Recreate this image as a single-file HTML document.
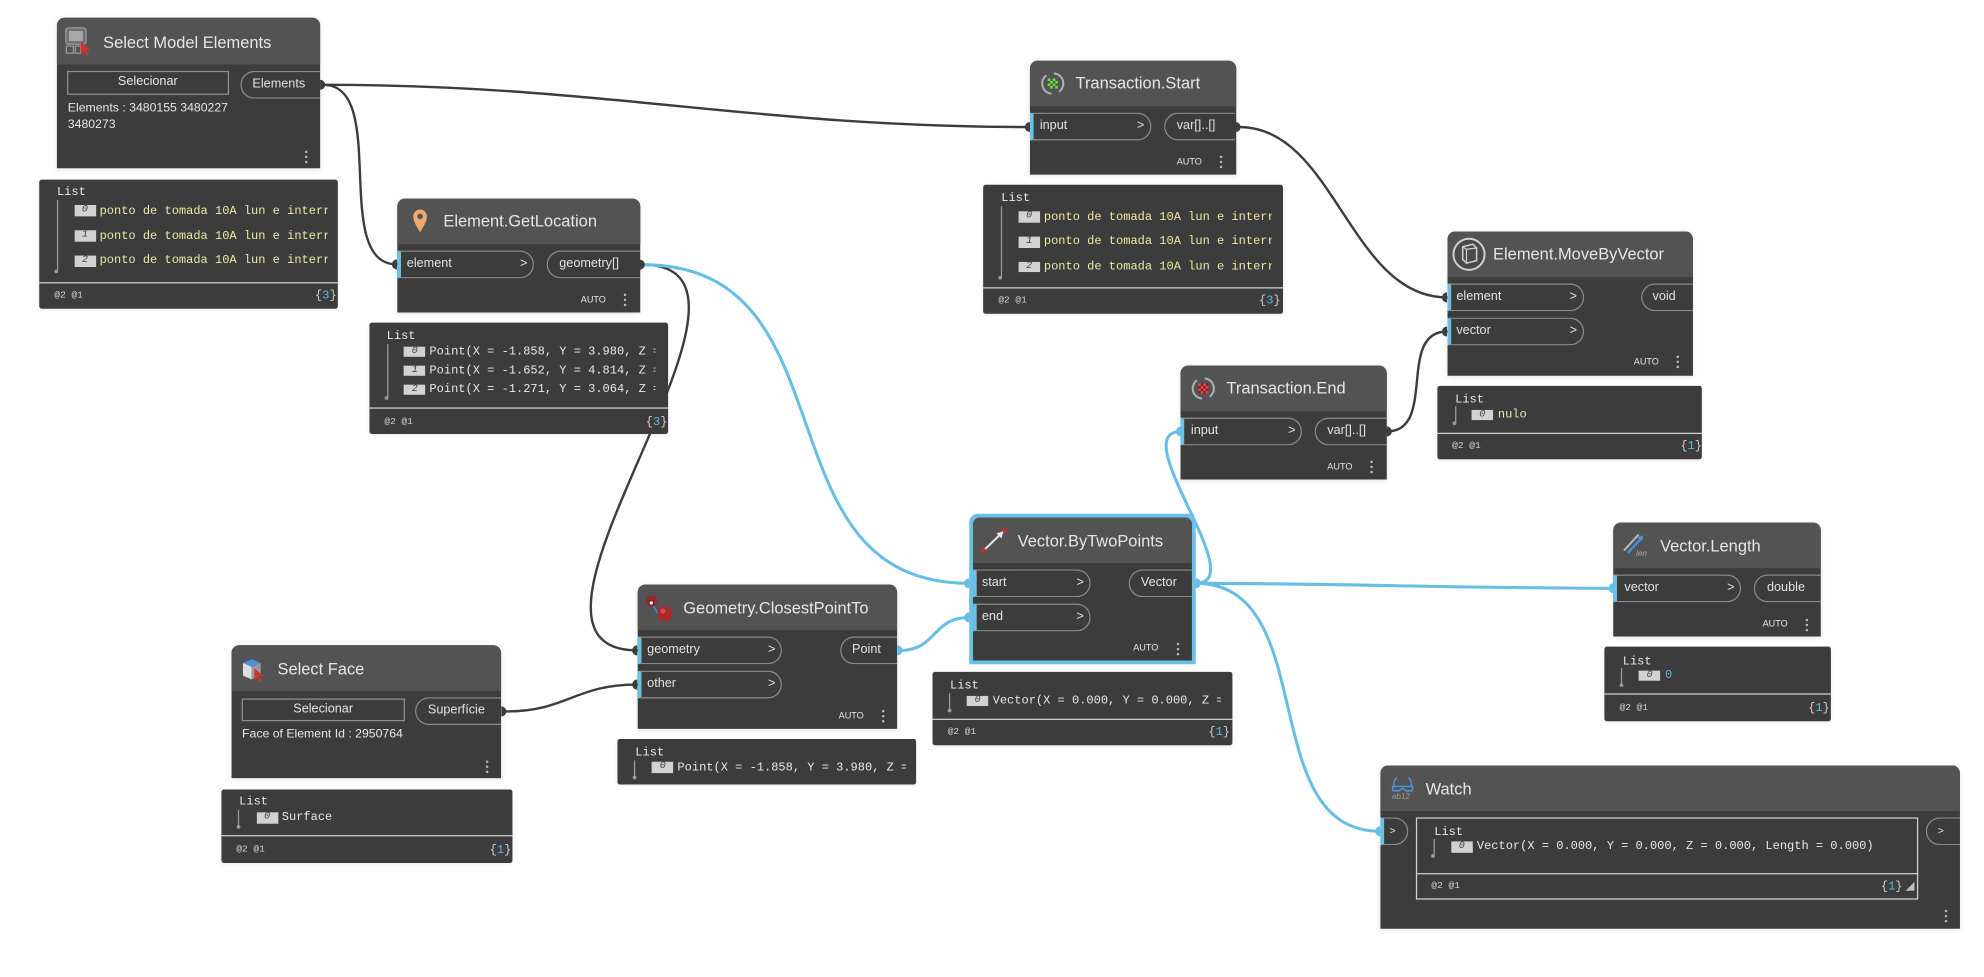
<!DOCTYPE html>
<html><head><meta charset="utf-8">
<style>
body{margin:0;width:1984px;height:976px;overflow:hidden;background:#fff;position:relative}
#c{position:absolute;left:0;top:0;width:1568px;height:772px;transform:scale(1.265306);transform-origin:0 0;font-family:"Liberation Sans",sans-serif}
#c div{position:absolute;box-sizing:border-box;white-space:nowrap}
.n{background:#3c3c3c;border-radius:6px 6px 0 0;box-shadow:0 1px 4px rgba(0,0,0,.10)}
.h{background:#535353;border-radius:6px 6px 0 0}
.t{font-size:13px;line-height:14px;height:14px;color:#e6e6e6}
.pi{border:1px solid #8a8a8a;border-left:3.5px solid #6ac0e7;border-radius:0 11px 11px 0;font-size:10px;color:#e2e2e2}
.po{border:1px solid #8a8a8a;border-right:none;border-radius:11px 0 0 11px;font-size:10px;color:#e2e2e2}
.ar{font-size:10px;line-height:14px;height:14px;color:#e2e2e2}
.au{font-size:7.2px;line-height:10px;height:10px;color:#e6e6e6}
.dt{width:2px;height:2px;border-radius:1px;background:#b8b8b8;box-shadow:0 4px 0 #b8b8b8,0 8px 0 #b8b8b8}
.lv{background:#3c3c3c;border-radius:2px;box-shadow:0 1px 3px rgba(0,0,0,.08)}
.dv{height:1px;background:#cfcfcf}
.m{font-family:"Liberation Mono",monospace;font-size:9.5px;line-height:12px;height:12px;color:#e8e8e8;overflow:hidden}
.y{color:#efe9a2}
.ix{background:#d2d2d2;color:#444;font-style:italic;font-family:"Liberation Mono",monospace;font-size:8px;text-align:center;line-height:8.5px;height:8.5px;width:17px}
.vl{width:1px;background:#9a9a9a}
.vd{width:3px;height:3px;border-radius:2px;background:#9a9a9a}
.ft{font-family:"Liberation Mono",monospace;font-size:7.5px;line-height:10px;height:10px;color:#d0d0d0}
.br{font-family:"Liberation Mono",monospace;font-size:9.5px;line-height:12px;height:12px;color:#cfcfcf}
.br span{color:#5fb7e5}
.tx{font-size:9.7px;line-height:14px;height:14px;color:#e6e6e6}
.btn{border:1px solid #8f8f8f;font-size:10px;color:#e6e6e6;text-align:center}
</style></head><body>
<div id="c">
<svg style="position:absolute;left:0;top:0" width="1568" height="772">
<g fill="none" stroke-linecap="round">
<path d="M255.5 67 C475.5 67 594 100.4 814 100.4" stroke="#3d3d3d" stroke-width="1.9"/>
<path d="M255.5 67 C308 67 261 209 313.7 209" stroke="#3d3d3d" stroke-width="1.9"/>
<path d="M979.6 100.4 C1054.6 100.4 1067 235.1 1143.6 235.1" stroke="#3d3d3d" stroke-width="1.9"/>
<path d="M508 209.2 C636 209.2 375 514 503.6 514" stroke="#3d3d3d" stroke-width="1.9"/>
<path d="M398.9 562.3 C448.9 562.3 453.6 541 503.6 541" stroke="#3d3d3d" stroke-width="1.9"/>
<path d="M1096 341 C1136 341 1103.6 262 1143.6 262" stroke="#3d3d3d" stroke-width="1.9"/>
<path d="M508 209.2 C678 209.2 596 461 766 461" stroke="#66bde6" stroke-width="2.4"/>
<path d="M711.3 514 C741 514 736 488 766 488" stroke="#66bde6" stroke-width="2.4"/>
<path d="M945 461 C990 461 888.4 341 933.4 341" stroke="#66bde6" stroke-width="2.4"/>
<path d="M945 461 C1045 461 1175 465 1275.4 465" stroke="#66bde6" stroke-width="2.4"/>
<path d="M945 461 C1045 461 990.8 657 1090.8 657" stroke="#66bde6" stroke-width="2.4"/>
</g>
</svg>

<!-- Select Model Elements -->
<div class="n" style="left:45px;top:14px;width:208px;height:119px"></div>
<div class="h" style="left:45px;top:14px;width:208px;height:36.6px"></div>
<svg style="position:absolute;left:51px;top:21px" width="22" height="23">
<rect x="1" y="1" width="16" height="13" rx="2" fill="#707070" stroke="#9a9a9a"/>
<rect x="3.5" y="3.5" width="11" height="8" fill="#a8a8a8"/>
<rect x="1.5" y="15.5" width="5.5" height="5.5" fill="none" stroke="#9a9a9a"/>
<rect x="8.5" y="15.5" width="4.5" height="5.5" fill="none" stroke="#9a9a9a"/>
<path d="M13 12 L13 22 L15.3 19.6 L17.6 23 L19.2 22 L17 18.6 L20.3 18.2 Z" fill="#d23232"/>
</svg>
<div class="t" style="left:81.5px;top:26.7px">Select Model Elements</div>
<div class="btn" style="left:53px;top:56px;width:127.7px;height:18.8px;line-height:16.8px">Selecionar</div>
<div class="po" style="left:189.5px;top:55.6px;width:63.5px;height:22.4px;line-height:20.4px;padding-left:9px">Elements</div>
<div class="tx" style="left:53.6px;top:79px">Elements : 3480155 3480227</div>
<div class="tx" style="left:53.6px;top:92.3px">3480273</div>
<div class="dt" style="left:241px;top:118.5px"></div>

<div class="lv" style="left:30.7px;top:141.5px;width:236.7px;height:102.5px"></div>
<div class="dv" style="left:30.7px;top:222.6px;width:236.7px"></div>
<div class="m" style="left:45px;top:146.3px">List</div>
<div class="vl" style="left:44.8px;top:158px;height:56px"></div>
<div class="vd" style="left:43.3px;top:213px"></div>
<div class="ix" style="left:58.6px;top:162.2px">0</div>
<div class="m y" style="left:78.7px;top:160.5px;width:180px">ponto de tomada 10A lun e interruptor</div>
<div class="ix" style="left:58.6px;top:182.2px">1</div>
<div class="m y" style="left:78.7px;top:180.5px;width:180px">ponto de tomada 10A lun e interruptor</div>
<div class="ix" style="left:58.6px;top:202px">2</div>
<div class="m y" style="left:78.7px;top:200.3px;width:180px">ponto de tomada 10A lun e interruptor</div>
<div class="ft" style="left:43px;top:228.7px">@2 @1</div>
<div class="br" style="left:249px;top:227.7px">{<span>3</span>}</div>

<!-- Element.GetLocation -->
<div class="n" style="left:313.7px;top:156.5px;width:191.9px;height:90.6px"></div>
<div class="h" style="left:313.7px;top:156.5px;width:191.9px;height:36.3px"></div>
<svg style="position:absolute;left:325.7px;top:165px" width="12" height="19">
<path d="M6 18.5 C3 13.5 0.6 10 0.6 6 A5.4 5.4 0 0 1 11.4 6 C11.4 10 9 13.5 6 18.5Z" fill="#f5a66b"/>
<circle cx="6" cy="6" r="2.2" fill="#535353"/>
</svg>
<div class="t" style="left:350.4px;top:167.5px">Element.GetLocation</div>
<div class="pi" style="left:313.7px;top:197.8px;width:108.6px;height:22.4px;line-height:20.4px;padding-left:4.8px">element</div>
<div class="ar" style="left:411px;top:202px">&gt;</div>
<div class="po" style="left:432.2px;top:197.8px;width:73.4px;height:22.4px;line-height:20.4px;padding-left:8.8px">geometry[]</div>
<div class="au" style="left:459px;top:231.6px">AUTO</div>
<div class="dt" style="left:493.2px;top:231.5px"></div>

<div class="lv" style="left:291.8px;top:255.3px;width:236.7px;height:88.2px"></div>
<div class="dv" style="left:291.8px;top:321.7px;width:236.7px"></div>
<div class="m" style="left:305.6px;top:260px">List</div>
<div class="vl" style="left:305.6px;top:272px;height:42px"></div>
<div class="vd" style="left:304.1px;top:313px"></div>
<div class="ix" style="left:319.3px;top:273.7px">0</div>
<div class="m" style="left:339.4px;top:272px;width:179px">Point(X = -1.858, Y = 3.980, Z = 0.000)</div>
<div class="ix" style="left:319.3px;top:288.7px">1</div>
<div class="m" style="left:339.4px;top:287px;width:179px">Point(X = -1.652, Y = 4.814, Z = 0.000)</div>
<div class="ix" style="left:319.3px;top:303.7px">2</div>
<div class="m" style="left:339.4px;top:302px;width:179px">Point(X = -1.271, Y = 3.064, Z = 0.000)</div>
<div class="ft" style="left:303.8px;top:328.5px">@2 @1</div>
<div class="br" style="left:510.4px;top:327.5px">{<span>3</span>}</div>

<!-- Transaction.Start -->
<div class="n" style="left:814px;top:47.7px;width:162.5px;height:90.3px"></div>
<div class="h" style="left:814px;top:47.7px;width:162.5px;height:36.1px"></div>
<svg style="position:absolute;left:822px;top:55.5px" width="20" height="20">
<path d="M5 3.5 A8 8 0 0 0 9 18" stroke="#b0b0b0" stroke-width="1.6" fill="none"/>
<path d="M15 16.5 A8 8 0 0 0 11 2" stroke="#b0b0b0" stroke-width="1.6" fill="none"/>
<rect x="6" y="6" width="8" height="8" fill="#3f6e2c"/>
<rect x="6" y="6" width="2" height="2" fill="#7fd05a"/><rect x="10" y="6" width="2" height="2" fill="#7fd05a"/>
<rect x="8" y="8" width="2" height="2" fill="#7fd05a"/><rect x="12" y="8" width="2" height="2" fill="#7fd05a"/>
<rect x="6" y="10" width="2" height="2" fill="#7fd05a"/><rect x="10" y="10" width="2" height="2" fill="#7fd05a"/>
<rect x="8" y="12" width="2" height="2" fill="#7fd05a"/><rect x="12" y="12" width="2" height="2" fill="#7fd05a"/>
</svg>
<div class="t" style="left:850px;top:59.4px">Transaction.Start</div>
<div class="pi" style="left:814px;top:89px;width:95.6px;height:22px;line-height:20px;padding-left:4.8px">input</div>
<div class="ar" style="left:898.5px;top:93px">&gt;</div>
<div class="po" style="left:920.2px;top:89px;width:56.3px;height:22px;line-height:20px;padding-left:8.8px">var[]..[]</div>
<div class="au" style="left:930px;top:122.8px">AUTO</div>
<div class="dt" style="left:964.2px;top:122.8px"></div>

<div class="lv" style="left:777px;top:146.2px;width:236.5px;height:102.2px"></div>
<div class="dv" style="left:777px;top:226.8px;width:236.5px"></div>
<div class="m" style="left:791.3px;top:151.3px">List</div>
<div class="vl" style="left:790.5px;top:163px;height:56px"></div>
<div class="vd" style="left:789px;top:218px"></div>
<div class="ix" style="left:804.9px;top:167.2px">0</div>
<div class="m y" style="left:825px;top:165.5px;width:179.5px">ponto de tomada 10A lun e interruptor</div>
<div class="ix" style="left:804.9px;top:187px">1</div>
<div class="m y" style="left:825px;top:185.3px;width:179.5px">ponto de tomada 10A lun e interruptor</div>
<div class="ix" style="left:804.9px;top:206.7px">2</div>
<div class="m y" style="left:825px;top:205px;width:179.5px">ponto de tomada 10A lun e interruptor</div>
<div class="ft" style="left:789px;top:233.4px">@2 @1</div>
<div class="br" style="left:995px;top:232.4px">{<span>3</span>}</div>

<!-- Element.MoveByVector -->
<div class="n" style="left:1143.6px;top:182.6px;width:194px;height:114.3px"></div>
<div class="h" style="left:1143.6px;top:182.6px;width:194px;height:36.3px"></div>
<svg style="position:absolute;left:1147.4px;top:186.7px" width="28" height="28">
<circle cx="14" cy="14" r="12.3" fill="#4a4a4a" stroke="#cfcfcf" stroke-width="1.6"/>
<path d="M9 8 L17 6 L20 9 L20 19 L12 21 L9 18 Z" fill="none" stroke="#cfcfcf" stroke-width="1.2"/>
<path d="M12 10 L12 20 M9 8 L12 10 L20 9" fill="none" stroke="#cfcfcf" stroke-width="1"/>
</svg>
<div class="t" style="left:1180px;top:193.7px">Element.MoveByVector</div>
<div class="pi" style="left:1143.6px;top:223.9px;width:108.4px;height:22.4px;line-height:20.4px;padding-left:4.4px">element</div>
<div class="ar" style="left:1240.5px;top:228.1px">&gt;</div>
<div class="pi" style="left:1143.6px;top:250.8px;width:108.4px;height:22.4px;line-height:20.4px;padding-left:4.4px">vector</div>
<div class="ar" style="left:1240.5px;top:255px">&gt;</div>
<div class="po" style="left:1296.5px;top:223.9px;width:41.1px;height:22.4px;line-height:20.4px;padding-left:8.5px">void</div>
<div class="au" style="left:1291.2px;top:281.4px">AUTO</div>
<div class="dt" style="left:1325.3px;top:281.4px"></div>

<div class="lv" style="left:1135.7px;top:305px;width:209.5px;height:58.3px"></div>
<div class="dv" style="left:1135.7px;top:342px;width:209.5px"></div>
<div class="m" style="left:1150px;top:310.1px">List</div>
<div class="vl" style="left:1149.7px;top:321px;height:13px"></div>
<div class="vd" style="left:1148.2px;top:333px"></div>
<div class="ix" style="left:1163px;top:323.7px">0</div>
<div class="m y" style="left:1183.8px;top:322px">nulo</div>
<div class="ft" style="left:1147.7px;top:348px">@2 @1</div>
<div class="br" style="left:1328px;top:347px">{<span>1</span>}</div>

<!-- Transaction.End -->
<div class="n" style="left:933.4px;top:288.5px;width:162.6px;height:90.6px"></div>
<div class="h" style="left:933.4px;top:288.5px;width:162.6px;height:36.3px"></div>
<svg style="position:absolute;left:941px;top:297px" width="20" height="20">
<path d="M5 3.5 A8 8 0 0 0 9 18" stroke="#b0b0b0" stroke-width="1.6" fill="none"/>
<path d="M15 16.5 A8 8 0 0 0 11 2" stroke="#b0b0b0" stroke-width="1.6" fill="none"/>
<rect x="6" y="6" width="8" height="8" fill="#7a2424"/>
<rect x="6" y="6" width="2" height="2" fill="#e04848"/><rect x="10" y="6" width="2" height="2" fill="#e04848"/>
<rect x="8" y="8" width="2" height="2" fill="#e04848"/><rect x="12" y="8" width="2" height="2" fill="#e04848"/>
<rect x="6" y="10" width="2" height="2" fill="#e04848"/><rect x="10" y="10" width="2" height="2" fill="#e04848"/>
<rect x="8" y="12" width="2" height="2" fill="#e04848"/><rect x="12" y="12" width="2" height="2" fill="#e04848"/>
</svg>
<div class="t" style="left:969.3px;top:300.4px">Transaction.End</div>
<div class="pi" style="left:933.4px;top:329.8px;width:96.1px;height:22.4px;line-height:20.4px;padding-left:4.8px">input</div>
<div class="ar" style="left:1018px;top:334px">&gt;</div>
<div class="po" style="left:1039.3px;top:329.8px;width:56.7px;height:22.4px;line-height:20.4px;padding-left:8.7px">var[]..[]</div>
<div class="au" style="left:1049px;top:363.5px">AUTO</div>
<div class="dt" style="left:1083.4px;top:363.5px"></div>

<!-- Vector.ByTwoPoints -->
<div style="left:765.8px;top:406.2px;width:179.2px;height:119.1px;background:#6ac0e7;border-radius:7px 7px 0 0"></div>
<div class="n" style="left:769px;top:409.4px;width:173px;height:112.8px;box-shadow:none"></div>
<div class="h" style="left:769px;top:409.4px;width:173px;height:35.6px;border-radius:5px 5px 0 0"></div>
<svg style="position:absolute;left:775px;top:417px" width="22" height="21">
<line x1="2.5" y1="18" x2="18" y2="3" stroke="#e8e8e8" stroke-width="1.6"/>
<path d="M18 3 L12.5 4.5 L16.5 8.5 Z" fill="#e8e8e8"/>
<rect x="0.5" y="16.5" width="3.5" height="3.5" fill="#c43030"/>
<rect x="17.5" y="0.5" width="3.5" height="3.5" fill="#c43030"/>
</svg>
<div class="t" style="left:804.3px;top:420.6px">Vector.ByTwoPoints</div>
<div class="pi" style="left:769px;top:450px;width:92.7px;height:22px;line-height:20px;padding-left:4px">start</div>
<div class="ar" style="left:850.8px;top:454px">&gt;</div>
<div class="pi" style="left:769px;top:476.8px;width:92.7px;height:22.4px;line-height:20.4px;padding-left:4px">end</div>
<div class="ar" style="left:850.8px;top:481px">&gt;</div>
<div class="po" style="left:891.7px;top:450px;width:50.3px;height:22px;line-height:20px;padding-left:9px">Vector</div>
<div class="au" style="left:895.6px;top:507.4px">AUTO</div>
<div class="dt" style="left:930.3px;top:508.4px"></div>

<div class="lv" style="left:736.6px;top:531.4px;width:237.1px;height:57.9px"></div>
<div class="dv" style="left:736.6px;top:567.7px;width:237.1px"></div>
<div class="m" style="left:750.8px;top:536.2px">List</div>
<div class="vl" style="left:750.3px;top:548px;height:13px"></div>
<div class="vd" style="left:748.8px;top:560px"></div>
<div class="ix" style="left:764.2px;top:549.5px">0</div>
<div class="m" style="left:784.5px;top:547.8px;width:180px">Vector(X = 0.000, Y = 0.000, Z = 0.000, Length = 0.000)</div>
<div class="ft" style="left:749px;top:574px">@2 @1</div>
<div class="br" style="left:955px;top:573px">{<span>1</span>}</div>

<!-- Geometry.ClosestPointTo -->
<div class="n" style="left:503.6px;top:461.6px;width:205.6px;height:114.3px"></div>
<div class="h" style="left:503.6px;top:461.6px;width:205.6px;height:36.3px"></div>
<svg style="position:absolute;left:509px;top:468px" width="25" height="25">
<line x1="6" y1="9" x2="13" y2="20" stroke="#3a8ad0" stroke-width="1.4"/>
<circle cx="6" cy="7" r="4.5" fill="#9c2626"/>
<circle cx="16.5" cy="17" r="6" fill="#a82a2a"/>
<circle cx="15" cy="15" r="2" fill="#d05050"/>
<rect x="4.2" y="7" width="3" height="3" fill="#fff" stroke="#222" stroke-width=".6"/>
</svg>
<div class="t" style="left:540px;top:473.8px">Geometry.ClosestPointTo</div>
<div class="pi" style="left:503.6px;top:502.9px;width:114.5px;height:22.4px;line-height:20.4px;padding-left:4.9px">geometry</div>
<div class="ar" style="left:607px;top:507px">&gt;</div>
<div class="pi" style="left:503.6px;top:529.8px;width:114.5px;height:22.4px;line-height:20.4px;padding-left:4.9px">other</div>
<div class="ar" style="left:607px;top:534px">&gt;</div>
<div class="po" style="left:663.5px;top:502.9px;width:45.7px;height:22.4px;line-height:20.4px;padding-left:8.9px">Point</div>
<div class="au" style="left:662.8px;top:560.6px">AUTO</div>
<div class="dt" style="left:696.9px;top:560.6px"></div>

<div class="lv" style="left:487.7px;top:584px;width:236.6px;height:36.4px"></div>
<div class="m" style="left:502.1px;top:589.4px">List</div>
<div class="vl" style="left:501.3px;top:601px;height:13px"></div>
<div class="vd" style="left:499.8px;top:613px"></div>
<div class="ix" style="left:515.3px;top:602.4px">0</div>
<div class="m" style="left:535.4px;top:600.7px;width:180.5px">Point(X = -1.858, Y = 3.980, Z = 0.000)</div>

<!-- Select Face -->
<div class="n" style="left:182.6px;top:510px;width:213.6px;height:105.4px"></div>
<div class="h" style="left:182.6px;top:510px;width:213.6px;height:36.1px"></div>
<svg style="position:absolute;left:190px;top:518.5px" width="22" height="21">
<path d="M2 5 L9 2 L16 5 L9 8 Z" fill="#4a90d4"/>
<path d="M2 5 L9 8 L9 18 L2 15 Z" fill="#dedede"/>
<path d="M16 5 L9 8 L9 18 L16 15 Z" fill="#9a9a9a"/>
<path d="M11 9 L11 19 L13.3 16.7 L15.5 20 L17 19 L15 15.7 L18.2 15.3 Z" fill="#d23232"/>
</svg>
<div class="t" style="left:219.3px;top:522px">Select Face</div>
<div class="btn" style="left:191px;top:551.9px;width:128.8px;height:18.2px;line-height:16.2px">Selecionar</div>
<div class="po" style="left:328.2px;top:551.1px;width:68px;height:22.4px;line-height:20.4px;padding-left:9px">Superfície</div>
<div class="tx" style="left:191.3px;top:574.4px">Face of Element Id : 2950764</div>
<div class="dt" style="left:383.9px;top:600.6px"></div>

<div class="lv" style="left:174.7px;top:623.6px;width:229.9px;height:58.2px"></div>
<div class="dv" style="left:174.7px;top:660.2px;width:229.9px"></div>
<div class="m" style="left:189px;top:628.4px">List</div>
<div class="vl" style="left:188.3px;top:640px;height:13px"></div>
<div class="vd" style="left:186.8px;top:652px"></div>
<div class="ix" style="left:202.7px;top:642px">0</div>
<div class="m" style="left:222.7px;top:640.2px">Surface</div>
<div class="ft" style="left:186.8px;top:666.8px">@2 @1</div>
<div class="br" style="left:387px;top:665.8px">{<span>1</span>}</div>

<!-- Vector.Length -->
<div class="n" style="left:1275.4px;top:412.5px;width:164.1px;height:90.7px"></div>
<div class="h" style="left:1275.4px;top:412.5px;width:164.1px;height:36.4px"></div>
<svg style="position:absolute;left:1281.5px;top:419.5px" width="23" height="21">
<line x1="1.5" y1="15" x2="13" y2="2.5" stroke="#b8b8b8" stroke-width="1.6"/>
<line x1="4.5" y1="17" x2="16" y2="4.5" stroke="#4a90d4" stroke-width="1.8"/>
<path d="M17 3 L12 4.5 L15.5 8 Z" fill="#4a90d4"/>
<text x="11" y="19.5" font-family="Liberation Sans, sans-serif" font-size="6.5" font-style="italic" fill="#a8a8a8">len</text>
</svg>
<div class="t" style="left:1312px;top:425px">Vector.Length</div>
<div class="pi" style="left:1275.4px;top:453.9px;width:100.8px;height:22.4px;line-height:20.4px;padding-left:5.4px">vector</div>
<div class="ar" style="left:1365px;top:458px">&gt;</div>
<div class="po" style="left:1386.2px;top:453.9px;width:53.3px;height:22.4px;line-height:20.4px;padding-left:9.3px">double</div>
<div class="au" style="left:1393px;top:487.9px">AUTO</div>
<div class="dt" style="left:1427.3px;top:488.9px"></div>

<div class="lv" style="left:1267.8px;top:511.3px;width:179.7px;height:58.3px"></div>
<div class="dv" style="left:1267.8px;top:547.7px;width:179.7px"></div>
<div class="m" style="left:1282.5px;top:516.7px">List</div>
<div class="vl" style="left:1281.1px;top:528px;height:13px"></div>
<div class="vd" style="left:1279.6px;top:540px"></div>
<div class="ix" style="left:1295.3px;top:529.7px">0</div>
<div class="m" style="left:1315.9px;top:528px;color:#5fb7e5">0</div>
<div class="ft" style="left:1280px;top:554.6px">@2 @1</div>
<div class="br" style="left:1429px;top:553.6px">{<span>1</span>}</div>

<!-- Watch -->
<div class="n" style="left:1090.8px;top:604.6px;width:458.6px;height:129.6px"></div>
<div class="h" style="left:1090.8px;top:604.6px;width:458.6px;height:36.4px"></div>
<svg style="position:absolute;left:1099px;top:613px" width="19" height="19">
<path d="M3 9 C2 6 3 3 5 1.5 M16 9 C17 6 16 3 14 1.5" stroke="#4a90d4" stroke-width="1.2" fill="none"/>
<path d="M1.5 8.5 L17.5 8.5 L17 12 L12.5 12 L9.5 10 L6.5 12 L2 12 Z" fill="none" stroke="#4a90d4" stroke-width="1.2"/>
<text x="1" y="18.5" font-family="Liberation Sans, sans-serif" font-size="6.5" fill="#9a9a9a">ab12</text>
</svg>
<div class="t" style="left:1126.7px;top:616.8px">Watch</div>
<div class="pi" style="left:1090.8px;top:646px;width:22.6px;height:22.4px;line-height:20.4px;padding-left:4.5px;font-size:8px">&gt;</div>
<div style="left:1118.6px;top:646px;width:397.4px;height:64.7px;border:1px solid #d0d0d0"></div>
<div class="dv" style="left:1118.6px;top:690.2px;width:397.4px"></div>
<div class="m" style="left:1133.5px;top:651.6px">List</div>
<div class="vl" style="left:1132.5px;top:663px;height:13px"></div>
<div class="vd" style="left:1131px;top:675px"></div>
<div class="ix" style="left:1146.8px;top:665.1px">0</div>
<div class="m" style="left:1167.2px;top:663.4px">Vector(X = 0.000, Y = 0.000, Z = 0.000, Length = 0.000)</div>
<div class="ft" style="left:1131.3px;top:696.3px">@2 @1</div>
<div class="br" style="left:1486.5px;top:695.3px">{<span>1</span>}</div>
<svg style="position:absolute;left:1505.5px;top:696.5px" width="8" height="8"><path d="M7 0 L7 7 L0 7 Z" fill="#bdbdbd"/></svg>
<div class="po" style="left:1521.5px;top:646px;width:27.9px;height:22.4px;line-height:20.4px;padding-left:9px;font-size:8px">&gt;</div>
<div class="dt" style="left:1537px;top:719px"></div>

<!-- connector markers -->
<svg style="position:absolute;left:0;top:0" width="1568" height="772">
<g fill="#3d3d3d">
<path d="M253 63 A4 4 0 0 1 253 71 Z"/>
<path d="M313.7 205 A4 4 0 0 0 313.7 213 Z"/>
<path d="M814 96.4 A4 4 0 0 0 814 104.4 Z"/>
<path d="M976.5 96.4 A4 4 0 0 1 976.5 104.4 Z"/>
<path d="M1143.6 231.1 A4 4 0 0 0 1143.6 239.1 Z"/>
<path d="M1143.6 258 A4 4 0 0 0 1143.6 266 Z"/>
<path d="M1096 337 A4 4 0 0 1 1096 345 Z"/>
<path d="M505.6 205.2 A4 4 0 0 1 505.6 213.2 Z"/>
<path d="M503.6 510 A4 4 0 0 0 503.6 518 Z"/>
<path d="M503.6 537 A4 4 0 0 0 503.6 545 Z"/>
<path d="M396.2 558.3 A4 4 0 0 1 396.2 566.3 Z"/>
</g>
<g fill="#66bde6">
<path d="M709.2 510 A4 4 0 0 1 709.2 518 Z"/>
<path d="M766 457 A4 4 0 0 0 766 465 Z"/>
<path d="M766 484 A4 4 0 0 0 766 492 Z"/>
<path d="M945 457 A4 4 0 0 1 945 465 Z"/>
<path d="M933.4 337 A4 4 0 0 0 933.4 345 Z"/>
<path d="M1275.4 461 A4 4 0 0 0 1275.4 469 Z"/>
<path d="M1090.8 653 A4 4 0 0 0 1090.8 661 Z"/>
</g>
</svg>
</div>
</body></html>
